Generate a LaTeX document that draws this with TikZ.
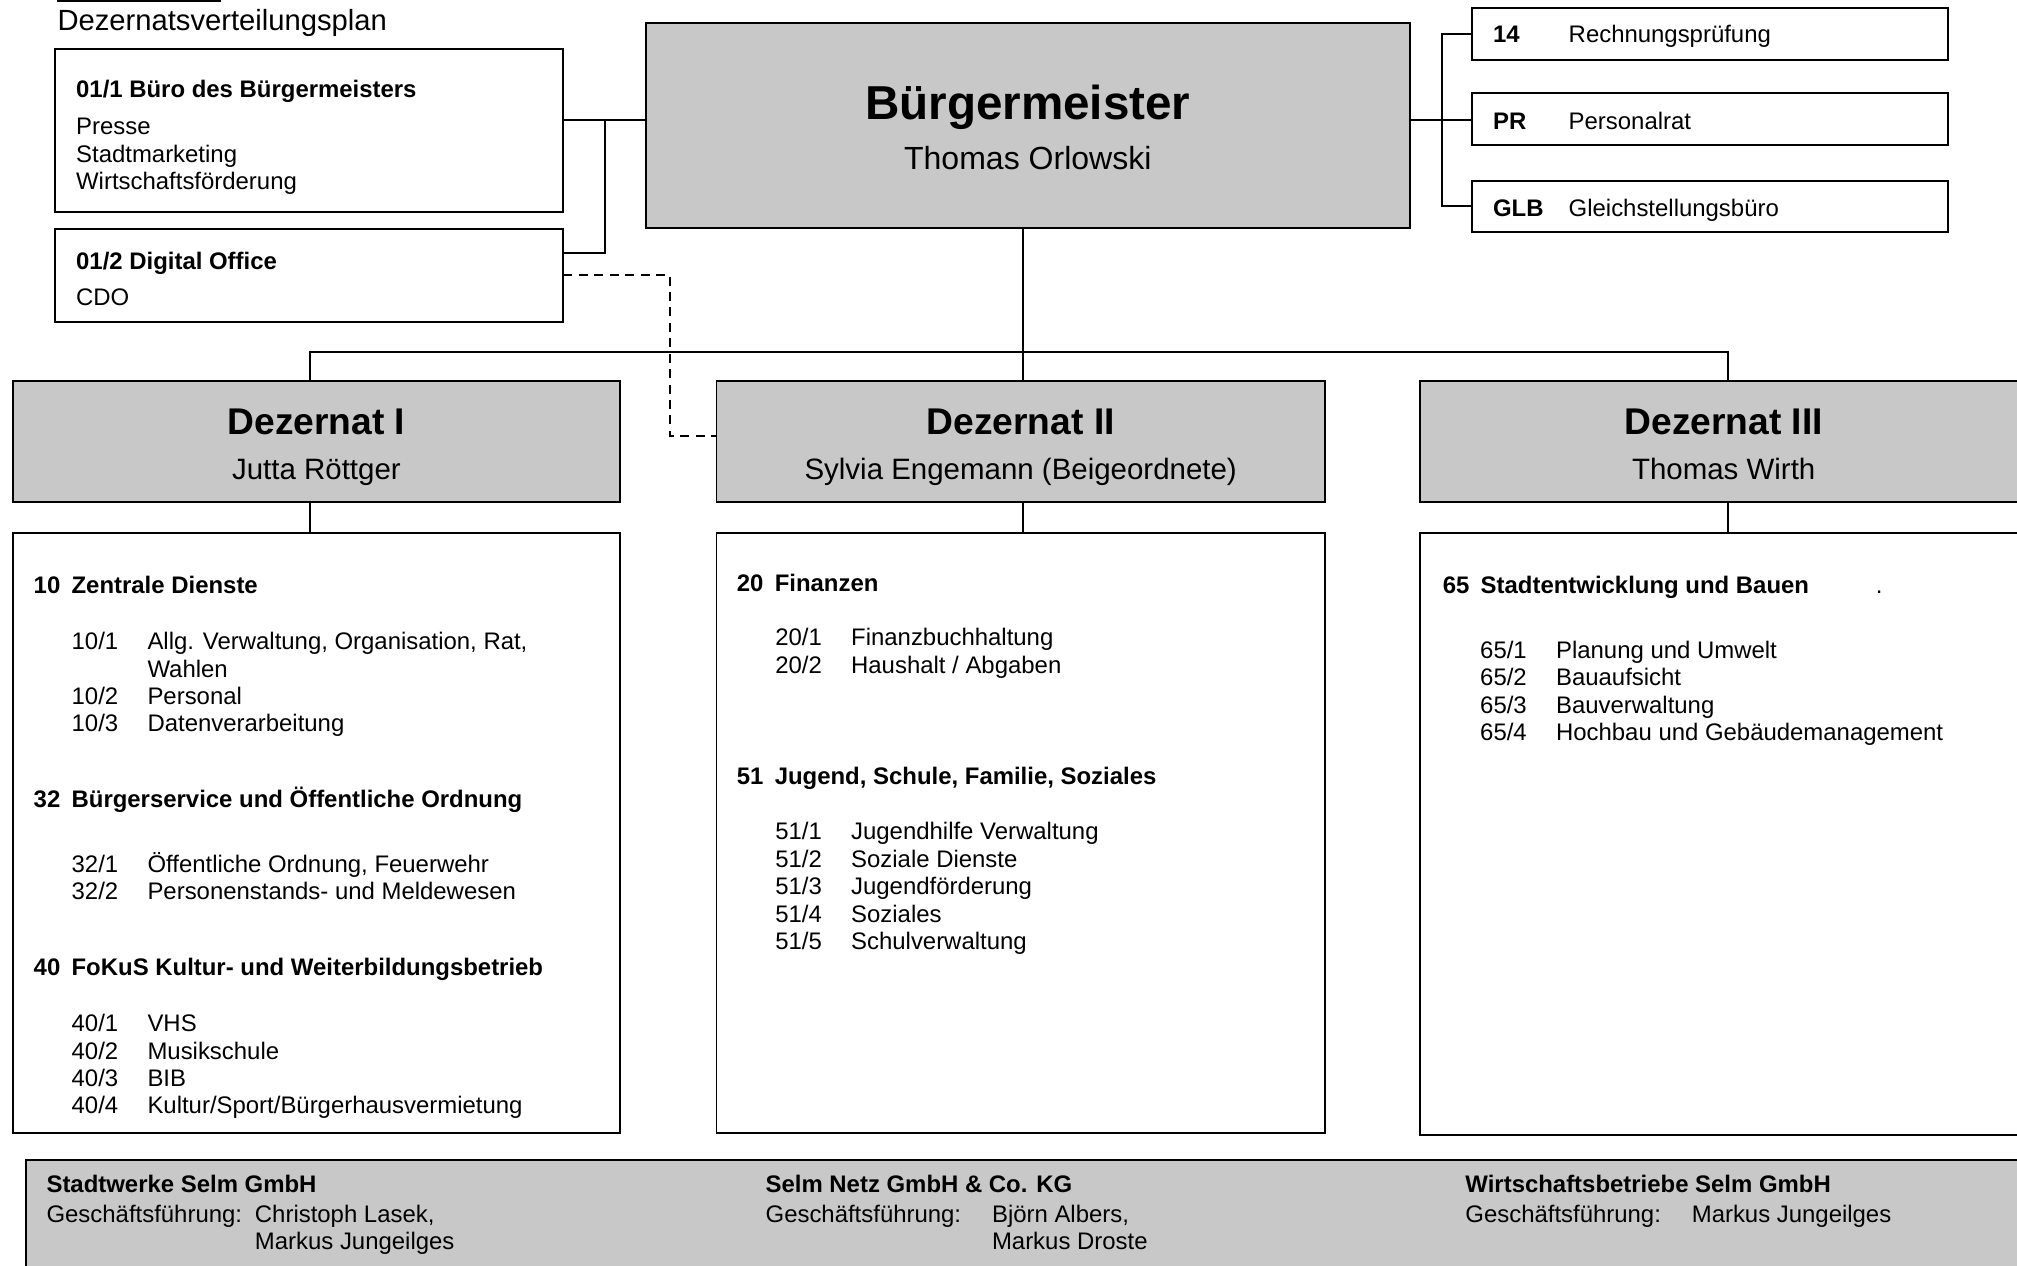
\documentclass[tikz,border=0pt]{standalone}
\usepackage{fontspec}
\setmainfont{Liberation Sans}
\definecolor{boxgrau}{RGB}{200,200,200}
\newcommand{\nr}[1]{\makebox[29.5pt][l]{#1}}
\newcommand{\liste}[1]{\begin{tabular}[t]{@{}p{59pt}@{}l@{}}#1\end{tabular}}
\newcommand{\zeilen}[1]{\begin{tabular}[t]{@{}l@{}}#1\end{tabular}}
\begin{document}
\begin{tikzpicture}[x=1pt,y=-1pt,line join=miter,
		kasten/.style={draw,line width=1.5pt,inner sep=0pt,outer sep=0pt,anchor=north west},
		grau/.style={kasten,fill=boxgrau},
		txt/.style={anchor=base west,inner sep=0pt,font=\fontsize{18.6}{21.3}\selectfont},
		mitte/.style={anchor=base,inner sep=0pt},
		kopf/.style={mitte,font=\fontsize{28.9}{32}\selectfont\bfseries},
		person/.style={mitte,font=\fontsize{22.9}{26}\selectfont},
		verb/.style={line width=1.5pt},
		gestr/.style={line width=1.5pt,dash pattern=on 7pt off 5pt}]
		\useasboundingbox (0,0) rectangle (1568,984);
		\clip (0,0) rectangle (1568,984);
		\fill (44.5,0) rectangle (172,1.5);
		\node[txt,font=\fontsize{22.7}{26}\selectfont] (titel) at (44.5,23.5) {Dezernatsverteilungsplan};
		\node[kasten,minimum width=395pt,minimum height=127pt] (buero) at (43,38) {};
		\node[txt] (buerokopf) at (59,76) {\bfseries 01/1 Büro des Bürgermeisters};
		\node[txt] (buerotext) at (59,104.7) {\zeilen{Presse\\Stadtmarketing\\Wirtschaftsförderung}};
		\node[kasten,minimum width=395pt,minimum height=72pt] (digital) at (43,178) {};
		\node[txt] (digitalkopf) at (59,209.6) {\bfseries 01/2 Digital Office};
		\node[txt] (digitaltext) at (59,237.4) {CDO};
		\node[grau,minimum width=594pt,minimum height=159.5pt] (bm) at (502,18) {};
		\node[mitte,font=\fontsize{37}{40}\selectfont\bfseries] (bmkopf) at (799,93) {Bürgermeister};
		\node[mitte,font=\fontsize{24.9}{28}\selectfont] (bmname) at (799,131.9) {Thomas Orlowski};
		\node[kasten,minimum width=370pt,minimum height=40pt] (rp) at (1144,6.5) {};
		\node[txt] (rpnr) at (1160.5,33.4) {\bfseries 14};
		\node[txt] (rptext) at (1219.3,33.4) {Rechnungsprüfung};
		\node[kasten,minimum width=370pt,minimum height=40pt] (pr) at (1144,72.5) {};
		\node[txt] (prnr) at (1160.5,100.3) {\bfseries PR};
		\node[txt] (prtext) at (1219.3,100.3) {Personalrat};
		\node[kasten,minimum width=370pt,minimum height=40pt] (glb) at (1144,140.5) {};
		\node[txt] (glbnr) at (1160.5,168) {\bfseries GLB};
		\node[txt] (glbtext) at (1219.3,168) {Gleichstellungsbüro};
		\node[grau,minimum width=472pt,minimum height=94pt] (dI) at (10,296) {};
		\node[kopf] (dIkopf) at (246,337.8) {Dezernat I};
		\node[person] (dIname) at (246,372.4) {Jutta Röttger};
		\node[grau,minimum width=473pt,minimum height=94pt] (dII) at (557,296) {};
		\node[kopf] (dIIkopf) at (793.5,337.8) {Dezernat II};
		\node[person] (dIIname) at (793.5,372.4) {Sylvia Engemann (Beigeordnete)};
		\node[grau,minimum width=472pt,minimum height=94pt] (dIII) at (1104,296) {};
		\node[kopf] (dIIIkopf) at (1340,337.8) {Dezernat III};
		\node[person] (dIIIname) at (1340,372.4) {Thomas Wirth};
		\node[kasten,minimum width=472pt,minimum height=467pt] (sI) at (10,414) {};
		\node[txt] (a10) at (26,461.5) {\bfseries\nr{10}Zentrale Dienste};
		\node[txt] (l10) at (55.5,505) {\liste{10/1 & Allg. Verwaltung, Organisation, Rat,\\ & Wahlen\\10/2 & Personal\\10/3 & Datenverarbeitung}};
		\node[txt] (a32) at (26,628) {\bfseries\nr{32}Bürgerservice und Öffentliche Ordnung};
		\node[txt] (l32) at (55.5,678) {\liste{32/1 & Öffentliche Ordnung, Feuerwehr\\32/2 & Personenstands- und Meldewesen}};
		\node[txt] (a40) at (26,758.5) {\bfseries\nr{40}FoKuS Kultur- und Weiterbildungsbetrieb};
		\node[txt] (l40) at (55.5,802) {\liste{40/1 & VHS\\40/2 & Musikschule\\40/3 & BIB\\40/4 & Kultur/Sport/Bürgerhausvermietung}};
		\node[kasten,minimum width=473pt,minimum height=467pt] (sII) at (557,414) {};
		\node[txt] (a20) at (572.6,459.6) {\bfseries\nr{20}Finanzen};
		\node[txt] (l20) at (602.5,502) {\liste{20/1 & Finanzbuchhaltung\\20/2 & Haushalt / Abgaben}};
		\node[txt] (a51) at (572.6,609.5) {\bfseries\nr{51}Jugend, Schule, Familie, Soziales};
		\node[txt] (l51) at (602.5,653) {\liste{51/1 & Jugendhilfe Verwaltung\\51/2 & Soziale Dienste\\51/3 & Jugendförderung\\51/4 & Soziales\\51/5 & Schulverwaltung}};
		\node[kasten,minimum width=472pt,minimum height=468pt] (sIII) at (1104,414) {};
		\node[txt] (a65) at (1121.4,461.3) {\bfseries\nr{65}Stadtentwicklung und Bauen};
		\node[txt] (a65punkt) at (1458,461.3) {.};
		\node[txt] (l65) at (1150.5,511.8) {\liste{65/1 & Planung und Umwelt\\65/2 & Bauaufsicht\\65/3 & Bauverwaltung\\65/4 & Hochbau und Gebäudemanagement}};
		\node[grau,minimum width=1570pt,minimum height=100pt] (gmbh) at (20,902) {};
		\node[txt] (swkopf) at (36,927.3) {\bfseries Stadtwerke Selm GmbH};
		\node[txt] (swgf) at (36,950) {Geschäftsführung:};
		\node[txt] (swnamen) at (198,950) {\zeilen{Christoph Lasek,\\Markus Jungeilges}};
		\node[txt] (snkopf) at (595,927.3) {\bfseries Selm Netz GmbH \& Co. KG};
		\node[txt] (sngf) at (595,950) {Geschäftsführung:};
		\node[txt] (snnamen) at (771,950) {\zeilen{Björn Albers,\\Markus Droste}};
		\node[txt] (wbkopf) at (1139,927.3) {\bfseries Wirtschaftsbetriebe Selm GmbH};
		\node[txt] (wbgf) at (1139,950) {Geschäftsführung:};
		\node[txt] (wbnamen) at (1315,950) {Markus Jungeilges};
		\coordinate (kn1) at (470,93);
		\coordinate (kn2) at (1121,93);
		\coordinate (kn3) at (521,339);
		\coordinate (bus) at (795,274);
		\coordinate (b1) at (241,274);
		\coordinate (b3) at (1343,274);
		\draw[verb] (bm.west |- kn1) -- (buero.east |- kn1);
		\draw[verb] (kn1) |- ([yshift=17pt]digital.east);
		\draw[gestr] (digital.east) -| (kn3) -- (dII.west |- kn3);
		\draw[verb] (bm.east |- kn2) -- (pr.west |- kn2);
		\draw[verb] (rp.west) -| (kn2) |- (glb.west);
		\draw[verb] (bm.south -| bus) -- (dII.north -| bus);
		\draw[verb] (dI.north -| b1) -- (b1) -- (b3) -- (dIII.north -| b3);
		\draw[verb] (dI.south -| b1) -- (sI.north -| b1);
		\draw[verb] (dII.south -| bus) -- (sII.north -| bus);
		\draw[verb] (dIII.south -| b3) -- (sIII.north -| b3);
\end{tikzpicture}
\end{document}
